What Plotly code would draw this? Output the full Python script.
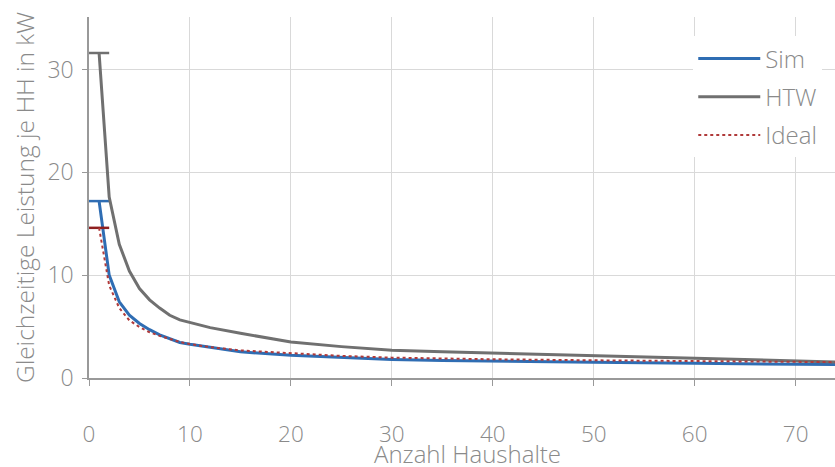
import plotly.graph_objects as go

n_sim = [1, 2, 3, 4, 5, 6, 7, 8, 9, 10, 12, 15, 20, 25, 30, 35, 40, 50, 60, 70, 74]
sim = [17.2, 10.0, 7.4, 6.1, 5.3, 4.7, 4.2, 3.8, 3.45, 3.28, 3.0, 2.55, 2.2, 1.97, 1.8, 1.7, 1.62, 1.52, 1.43, 1.33, 1.3]

n_htw = [1, 2, 3, 4, 5, 6, 7, 8, 9, 10, 12, 15, 20, 25, 30, 35, 40, 50, 60, 70, 74]
htw = [31.6, 17.6, 13.0, 10.4, 8.7, 7.6, 6.8, 6.1, 5.65, 5.4, 4.9, 4.35, 3.5, 3.05, 2.7, 2.55, 2.42, 2.14, 1.88, 1.65, 1.56]

n_ideal = [1, 2, 3, 4, 5, 6, 7, 8, 9, 10, 12, 15, 20, 25, 30, 35, 40, 50, 60, 70, 74]
ideal = [14.6, 9.0, 6.8, 5.6, 4.95, 4.45, 4.1, 3.8, 3.5, 3.3, 3.0, 2.68, 2.39, 2.15, 1.98, 1.88, 1.82, 1.72, 1.62, 1.56, 1.54]

x_ticks = [0, 10, 20, 30, 40, 50, 60, 70]
y_ticks = [0, 10, 20, 30]
x_title = "Anzahl Haushalte"
y_title = "Gleichzeitige Leistung je HH in kW"

def cap(n):
    return [1] + [0] * (n - 1)

fig = go.Figure()
fig.add_trace(go.Scatter(
    x=n_sim, y=sim, name="Sim", mode="lines", legendgroup="a",
    line=dict(color="#2F6DB3", width=3),
    error_x=dict(type="data", array=cap(len(sim)), arrayminus=cap(len(sim)), symmetric=False,
                 color="#2F6DB3", thickness=2.5, width=0),
))
fig.add_trace(go.Scatter(
    x=n_htw, y=htw, name="HTW", mode="lines", legendgroup="b",
    line=dict(color="#707070", width=3),
    error_x=dict(type="data", array=cap(len(htw)), arrayminus=cap(len(htw)), symmetric=False,
                 color="#707070", thickness=2.5, width=0),
))
fig.add_trace(go.Scatter(
    x=n_ideal, y=ideal, name="Ideal", mode="lines", legendgroup="c",
    line=dict(color="#B03A3A", width=2, dash="dot"),
    error_x=dict(type="data", array=cap(len(ideal)), arrayminus=cap(len(ideal)), symmetric=False,
                 color="#8E1F1F", thickness=2.5, width=0),
))

font_col = "#8a8a8a"
fam = "Open Sans"
fig.update_layout(
    width=835, height=467,
    margin=dict(l=89, r=0, t=17, b=89, autoexpand=False),
    paper_bgcolor="white", plot_bgcolor="white",
    font=dict(family=fam, size=23, color=font_col, weight=300),
    showlegend=True,
    legend=dict(x=0.81, y=0.946, xanchor="left", yanchor="top",
                bgcolor="white", font=dict(size=24, color=font_col, weight=300),
                tracegroupgap=4, itemwidth=62),
    xaxis=dict(
        range=[0, 73.9], tickvals=x_ticks, ticks="outside", ticklen=6,
        tickcolor="#999", showline=True, linecolor="#999", linewidth=1.5,
        showgrid=True, gridcolor="#d9d9d9", gridwidth=1, zeroline=False,
        tickfont=dict(size=22.5, color=font_col, weight=300),
        ticklabelstandoff=29, automargin=False,
    ),
    yaxis=dict(
        range=[0, 35.1], tickvals=y_ticks, ticks="outside", ticklen=5,
        tickcolor="#999", showline=True, linecolor="#999", linewidth=1.5,
        showgrid=True, gridcolor="#d9d9d9", gridwidth=1, zeroline=False,
        tickfont=dict(size=23, color=font_col, weight=300),
        ticklabelstandoff=4, automargin=False,
        title=dict(text=y_title, font=dict(size=24.5, color=font_col, weight=300), standoff=6),
    ),
    annotations=[dict(
        text=x_title, xref="paper", yref="paper", x=0.507, y=-0.21,
        xanchor="center", yanchor="middle", showarrow=False,
        font=dict(size=24, color=font_col, weight=300),
    )],
)

fig.write_html("out.html")
